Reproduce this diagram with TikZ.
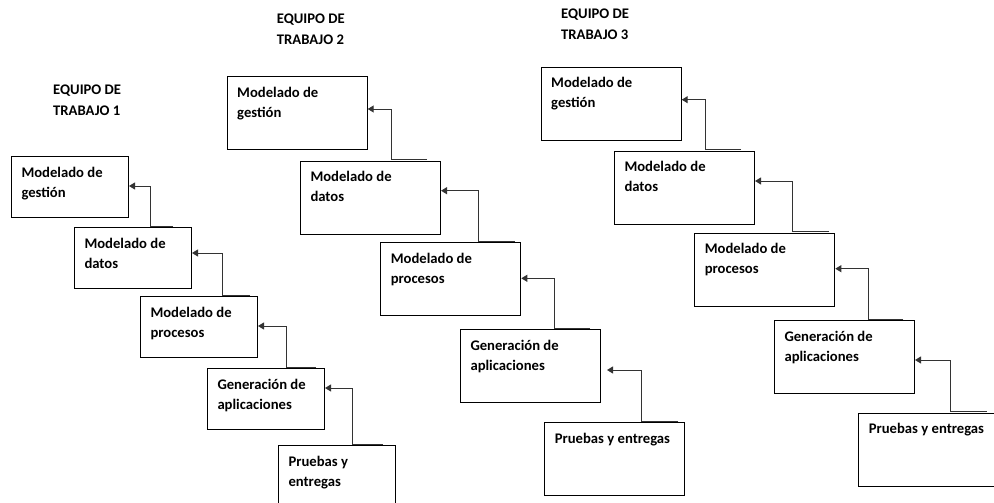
\documentclass[tikz,border=0pt]{standalone}
\usepackage{fontspec}
\setmainfont{Carlito}
\usetikzlibrary{arrows.meta}
\tikzstyle{stage}=[draw=black,line width=1pt,anchor=north west,inner xsep=10pt,inner ysep=0pt,font=\bfseries\fontsize{14.67}{20}\selectfont]
\tikzstyle{team}=[anchor=north west,inner sep=0pt,font=\bfseries\fontsize{14.67}{21}\selectfont]
\tikzstyle{link}=[draw=black!80,line width=1pt,-{Triangle[length=6pt,width=7pt]}]
\newcommand{\narrowtext}[1]{\parbox[c][61pt][t]{97pt}{\raggedright\rule{0pt}{20.5pt}#1}}
\newcommand{\widetext}[1]{\parbox[c][73pt][t]{120pt}{\raggedright\rule{0pt}{20.5pt}#1}}
\newcommand{\teamtext}[1]{\parbox[t]{90pt}{\raggedright\rule{0pt}{16pt}#1}}

\begin{document}
\begin{tikzpicture}[x=1pt,y=-1pt]
						\clip (0,0) rectangle (994,503);
						% First the titles of the three teams
						\foreach \pos/\name/\num in {{(53,78)/team1/1}, {(276.7,7)/team2/2}, {(561,2)/team3/3}}
						\node[team] (\name) at \pos {\teamtext{EQUIPO DE\\TRABAJO \num}};

						% Then the boxes, team 1 has the narrow ones
						\foreach \pos/\name/\label in {{(11,156)/g1/Modelado de\\gestión}, {(74,227)/d1/Modelado de\\datos}, {(140,296)/p1/Modelado de\\procesos}, {(207,368)/a1/Generación de\\aplicaciones}, {(278,445)/e1/Pruebas y\\entregas}}
						\node[stage] (\name) at \pos {\narrowtext{\label}};

						\foreach \pos/\name/\label in {{(226.7,76)/g2/Modelado de\\gestión}, {(300,160.7)/d2/Modelado de\\datos}, {(380.3,242.3)/p2/Modelado de\\procesos}, {(460,329.3)/a2/Generación de\\aplicaciones}, {(544.3,422)/e2/Pruebas y entregas}}
						\node[stage] (\name) at \pos {\widetext{\label}};

						\foreach \pos/\name/\label in {{(540.7,66.7)/g3/Modelado de\\gestión}, {(614,150.7)/d3/Modelado de\\datos}, {(694.3,232.7)/p3/Modelado de\\procesos}, {(774,320)/a3/Generación de\\aplicaciones}, {(858.3,412.7)/e3/Pruebas y entregas}}
						\node[stage] (\name) at \pos {\widetext{\label}};

						% Connect each box back to the one above it
						\foreach \source/\dest/\vx/\tx/\dy in {d1/g1/76/99/1, p1/d1/82/110/5, a1/p1/79/109/1, e1/a1/74/105/11, d2/g2/91.7/127/4, p2/d2/98/134.7/7, a2/p2/94/130/1, d3/g3/91.3/127/4, p3/d3/98/134.7/6.7, a3/p3/94/129.3/1, e3/a3/91.7/128.4/-3}
						\path[link] ([xshift=\tx pt,yshift=1pt]\source.north west) -- ([xshift=\vx pt,yshift=1pt]\source.north west) |- ([yshift=\dy pt]\dest.east);

						\foreach \source/\dest/\vx/\tx/\dy in {e2/a2/97.4/134/-3.7}
						\path[link,shorten >=6pt] ([xshift=\tx pt,yshift=1pt]\source.north west) -- ([xshift=\vx pt,yshift=1pt]\source.north west) |- ([yshift=\dy pt]\dest.east);
					\end{tikzpicture}
\end{document}
